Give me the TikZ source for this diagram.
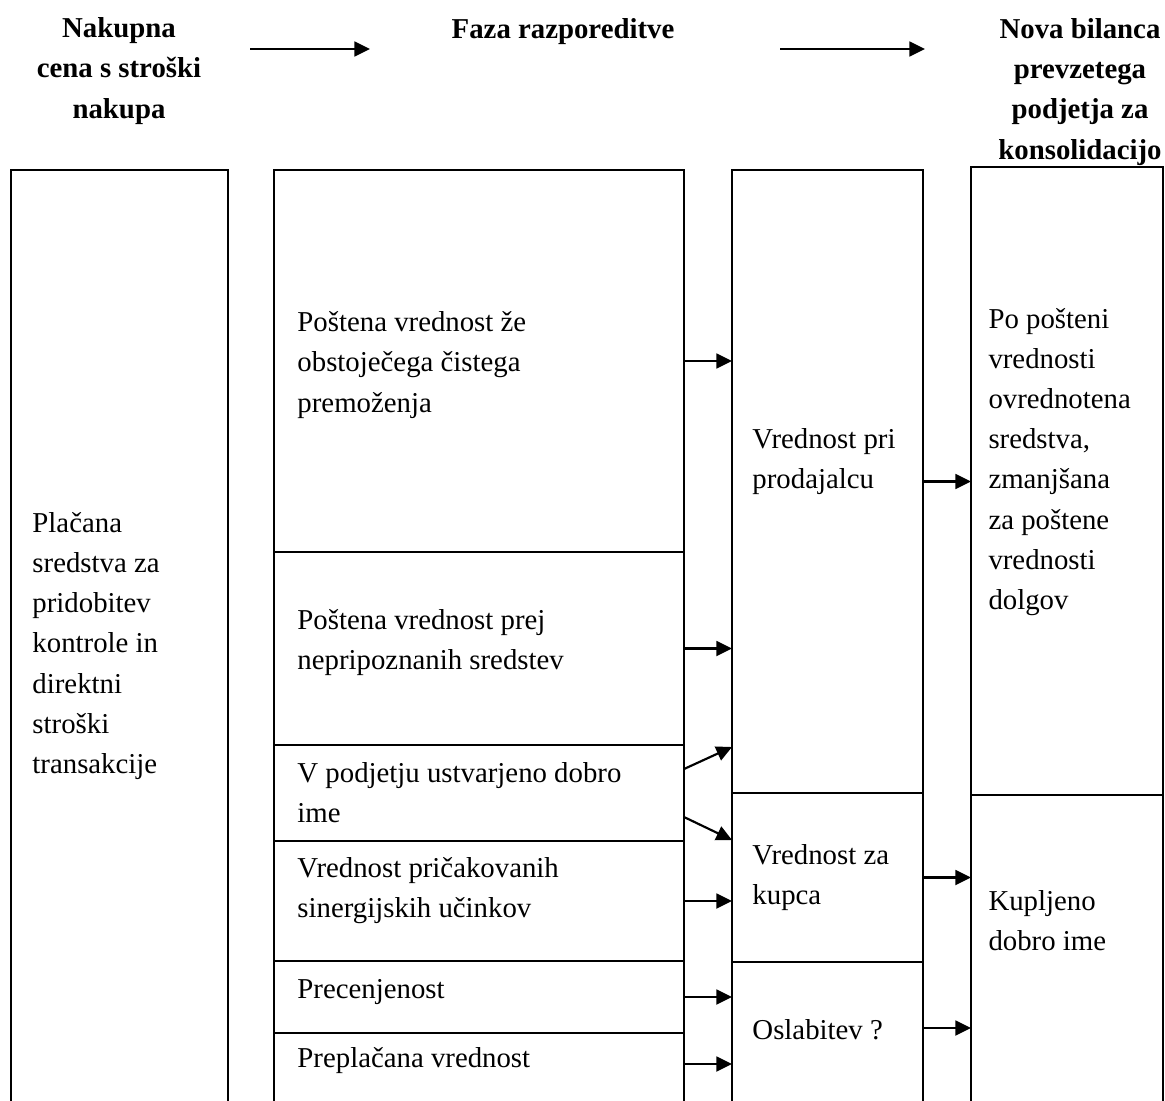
\documentclass[tikz,border=0pt]{standalone}
\usepackage{fontspec}
\setmainfont{Liberation Serif}
\usetikzlibrary{positioning, arrows.meta, calc}
\newlength{\pxu}
\setlength{\pxu}{0.4167pt}
\tikzset{
    cell/.style={draw, line width=0.9pt, inner sep=0pt, outer sep=0pt}, % one box of a column
    txt/.style={inner sep=0pt, align=left, anchor=west, font=\fontsize{12pt}{16.7pt}\selectfont}, % text in a box
    head/.style={inner sep=0pt, align=center, font=\fontsize{12pt}{16.7pt}\selectfont\bfseries}, % column heading
    arrow/.style={line width=0.9pt, -{Triangle[length=6.5pt, width=6.2pt]}},
}

\begin{document}
\begin{tikzpicture}[x=\pxu, y=-\pxu, node distance=0pt,
        col2/.style={cell, minimum width=410\pxu},
        col3/.style={cell, minimum width=191\pxu},
        col4/.style={cell, minimum width=192\pxu}]
    \useasboundingbox (0,0) rectangle (1165,1100);
    \clip (0,0) rectangle (1165,1100);

    % headings
    \node[head] (hbuy) at (119,71) {Nakupna\\cena s stroški\\nakupa};
    \node[head] (hphase) at (563,32) {Faza razporeditve};
    \node[head] (hnew) at (1080,92) {Nova bilanca\\prevzetega\\podjetja za\\konsolidacijo};
    \coordinate (a1) at (250,49);
    \coordinate (a2) at (370,49);
    \coordinate (a3) at (780,49);
    \coordinate (a4) at (925,49);
    \draw[arrow] (a1) -- (a2);
    \draw[arrow] (a3) -- (a4);

    % columns (they run on below the page)
    \node[cell, minimum width=217\pxu, minimum height=1000\pxu, anchor=north west] (paid) at (11,170) {};

    \node[col2, minimum height=382\pxu, anchor=north west] (fair) at (274,170) {};
    \node[col2, minimum height=193\pxu, below=of fair] (unrec) {};
    \node[col2, minimum height=96\pxu, below=of unrec] (inhouse) {};
    \node[col2, minimum height=120\pxu, below=of inhouse] (synergy) {};
    \node[col2, minimum height=72\pxu, below=of synergy] (overval) {};
    \node[col2, minimum height=150\pxu, below=of overval] (overpaid) {};

    \node[col3, minimum height=623\pxu, anchor=north west] (seller) at (732,170) {};
    \node[col3, minimum height=169\pxu, below=of seller] (buyer) {};
    \node[col3, minimum height=200\pxu, below=of buyer] (impair) {};

    \node[col4, minimum height=628\pxu, anchor=north west] (newbs) at (971,167) {};
    \node[col4, minimum height=400\pxu, below=of newbs] (goodwill) {};

    % texts
    \node[txt] (tpaid) at ([xshift=21\pxu, yshift=-476\pxu]paid.north west)
        {Plačana\\sredstva za\\pridobitev\\kontrole in\\direktni\\stroški\\transakcije};
    \node[txt] (tfair) at ([xshift=23\pxu, yshift=-4\pxu]fair.west)
        {Poštena vrednost že\\obstoječega čistega\\premoženja};
    \node[txt] (tunrec) at ([xshift=23\pxu, yshift=6\pxu]unrec.west)
        {Poštena vrednost prej\\nepripoznanih sredstev};
    \node[txt] (tinhouse) at ([xshift=23\pxu]inhouse.west)
        {V podjetju ustvarjeno dobro\\ime};
    \node[txt] (tsynergy) at ([xshift=23\pxu, yshift=10\pxu]synergy.west)
        {Vrednost pričakovanih\\sinergijskih učinkov};
    \node[txt] (toverval) at ([xshift=23\pxu, yshift=5\pxu]overval.west) {Precenjenost};
    \node[txt] (toverpaid) at ([xshift=23\pxu, yshift=-28\pxu]overpaid.north west) {Preplačana vrednost};
    \node[txt] (tseller) at ([xshift=20\pxu, yshift=20\pxu]seller.west) {Vrednost pri\\prodajalcu};
    \node[txt] (tbuyer) at ([xshift=20\pxu]buyer.west) {Vrednost za\\kupca};
    \node[txt] (timpair) at ([xshift=20\pxu, yshift=-68\pxu]impair.north west) {Oslabitev ?};
    \node[txt] (tnewbs) at ([xshift=17\pxu, yshift=19\pxu]newbs.west)
        {Po pošteni\\vrednosti\\ovrednotena\\sredstva,\\zmanjšana\\za poštene\\vrednosti\\dolgov};
    \node[txt] (tgoodwill) at ([xshift=17\pxu, yshift=-126\pxu]goodwill.north west) {Kupljeno\\dobro ime};

    % allocation arrows
    \draw[arrow] (fair.east) -- (fair.east -| seller.west);
    \draw[arrow] (unrec.east) -- (unrec.east -| seller.west);
    \draw[arrow] ([yshift=24\pxu]inhouse.east) -- ([yshift=46\pxu]seller.south west);
    \draw[arrow] ([yshift=-24\pxu]inhouse.east) -- ([yshift=-47\pxu]buyer.north west);
    \draw[arrow] (synergy.east) -- (synergy.east -| buyer.west);
    \draw[arrow] (overval.east) -- (overval.east -| impair.west);
    \draw[arrow] ($(overpaid.north east)+(0,31)$) -- ($(overpaid.north east -| impair.west)+(0,31)$);
    \draw[arrow] (seller.east) -- (seller.east -| newbs.west);
    \draw[arrow] (buyer.east) -- (buyer.east -| goodwill.west);
    \draw[arrow] ($(impair.north east)+(0,66)$) -- ($(impair.north east -| goodwill.west)+(0,66)$);
\end{tikzpicture}
\end{document}
